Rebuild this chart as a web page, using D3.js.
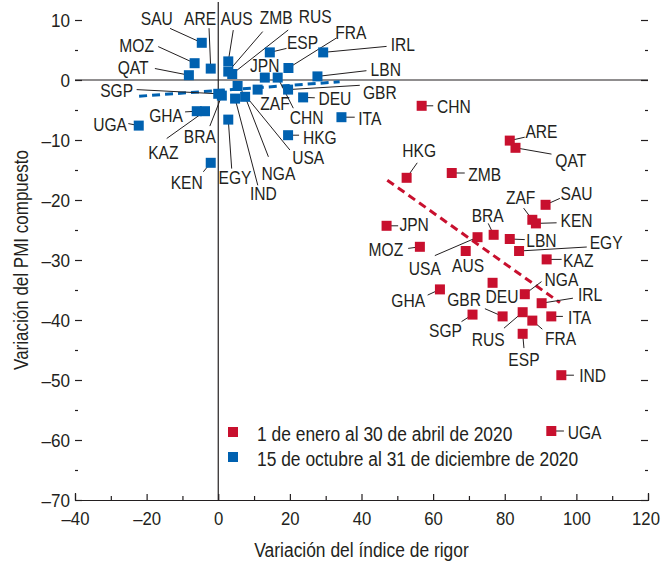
<!DOCTYPE html>
<html>
<head>
<meta charset="utf-8">
<script src="https://cdn.jsdelivr.net/npm/d3@7"></script>
<style>
  html, body { margin: 0; padding: 0; background: #fff; }
  svg { display: block; }
  text { font-family: "Liberation Sans", Arial, sans-serif; fill: #231f20; }
</style>
</head>
<body>
<svg id="chart" width="663" height="561"></svg>
<script>
// Country codes in each period
const countries = ["SAU","ARE","AUS","ZMB","RUS","ESP","FRA","IRL","LBN","JPN","CHN","GBR","ZAF","DEU",
                   "ITA","HKG","USA","NGA","IND","EGY","KEN","KAZ","BRA","GHA","UGA","SGP","QAT","MOZ"];

// 1 Jan – 30 Apr 2020: change in stringency index (x) and composite PMI (y)
const earlyStringency = [91.4, 81.4, 69.1, 65.2, 85.0, 85.0, 87.7, 90.3, 81.4, 47.0, 56.8, 79.4, 87.7, 76.6,
                         93.0, 52.6, 72.4, 85.6, 95.8, 84.0, 88.7, 91.7, 76.9, 61.9, 93.0, 71.0, 83.0, 56.3];
const earlyPMI        = [-20.8, -10.1, -28.5, -15.5, -38.7, -42.3, -40.1, -37.2, -26.5, -24.3, -4.3, -39.4, -23.3, -33.8,
                         -39.4, -16.3, -26.2, -35.7, -49.2, -28.5, -23.9, -29.9, -25.8, -34.9, -58.5, -39.1, -11.3, -27.8];

// 15 Oct – 31 Dec 2020
const lateStringency = [-4.6, -2.1, 2.8, 2.8, 3.9, 14.4, 19.6, 29.3, 27.7, 13.0, 16.6, 19.5, 11.0, 23.7,
                        34.4, 19.5, 5.4, 7.5, 4.7, 2.8, -2.1, -3.7, 1.0, -6.0, -22.2, 0.0, -8.2, -6.6];
const latePMI        = [6.2, 1.9, 3.1, 1.4, 1.0, 4.6, 2.0, 4.6, 0.6, 0.4, 0.4, -1.6, -1.6, -2.9,
                        -6.2, -9.2, -1.0, -2.8, -3.1, -6.6, -13.8, -5.2, -2.6, -5.2, -7.6, -2.3, 0.8, 2.8];

// Fitted trend lines: [x0, y0, x1, y1]
const earlyTrend = [47.2, -16.7, 95.4, -37.1];
const lateTrend  = [-22.1, -2.7, 33.9, -0.3];

// Axis ticks
const xTicks = [-40, -20, 0, 20, 40, 60, 80, 100, 120];
const xMinorTicks = [-30, -10, 10, 30, 50, 70, 90, 110];
const yTicks = [10, 0, -10, -20, -30, -40, -50, -60, -70];
const yMinorTicks = [5, -5, -15, -25, -35, -45, -55, -65];

const legendLabels = ["1 de enero al 30 de abril de 2020", "15 de octubre al 31 de diciembre de 2020"];
const xTitle = "Variación del índice de rigor";
const yTitle = "Variación del PMI compuesto";

// Label placement (pixel offsets from the marker): text centre, and optional leader end
const earlyLabelPos = {
  CHN: [32.3, 1, 11.6, 0],   ARE: [31.7, -9, 15, -3.4],   QAT: [55.3, 12.3, 36, 6.3],
  HKG: [12.6, -27.7, 10.6, -15], ZMB: [33, 1.6, 13, 0],  SAU: [31, -11.4, 14.3, -6.4],
  ZAF: [-11.7, -22.7, -8.7, -11.7], KEN: [40.7, -2.6, 20.7, -0.6], JPN: [27.6, -1.7, 11.6, 0],
  BRA: [-6, -19.7, -5.4, -11.4], USA: [-52.7, 31, -42.7, 18.4], LBN: [31.7, 1.3, 15, 0.6],
  MOZ: [-34, 2.3, -11.7, 1.6], AUS: [2.3, 14.8], EGY: [87, -8.2, 67.7, -4],
  KAZ: [31.6, 0.7, 15, 0], NGA: [36.7, -15.3, 16.7, -12.6], DEU: [9.5, 14],
  GHA: [-31.7, 10.7, -12.3, 5.7], GBR: [-38.5, -17.4, -17.7, -7.7], IRL: [48.5, -8.8, 31.3, -5],
  SGP: [-27, 15.3, -11, 7], RUS: [-34.4, 27, -18.7, 16], FRA: [28.3, 17.6, 10, 8.6],
  ITA: [28.3, 0.6, 11.6, 0], ESP: [1.3, 26, 1.3, 14.3], IND: [31.3, 0, 12.6, 0],
  UGA: [33.3, 1, 12.6, 0]
};
const lateLabelPos = {
  SAU: [-45, -24.4, -31.7, -14.4], ARE: [-10.7, -50.4, -1.7, -40.4], AUS: [8.4, -43, 5, -31.3],
  ZMB: [48, -54.2, 34.4, -40], RUS: [83, -57.3, 56, -44], ESP: [32.7, -9.6, 16.7, -4],
  FRA: [62.3, -35.3, 48, -30], IRL: [79.7, -7.7, 63.4, -6], LBN: [68.3, -6.7, 49, -5.7],
  JPN: [0, -12], CHN: [29, 39.6, 15.6, 30.6], GBR: [91.7, 2.4, 71.7, -4.3],
  ZAF: [17.3, 14], DEU: [31.7, 1, 11.7, 0.4], ITA: [28.3, 0.7, 13.3, 0],
  HKG: [31.7, 1.7, 11, 0], USA: [70.6, 71.7, 52.3, 64], NGA: [33.3, 76.6, 23.3, 60],
  IND: [28.3, 95, 22.7, 86.7], EGY: [6.7, 57.4, 3.4, 49], KEN: [-24, 20, -7.4, 9],
  KAZ: [-41.7, 40.7, -38.3, 27.3], BRA: [-22, 41.2, -12, 30.5], GHA: [-30.7, 4, -11.7, 0.7],
  UGA: [-28.7, -1.3, -10.4, -2], SGP: [-101.6, -3.5, -81.6, -4.2], QAT: [-55.7, -8.3, -34, -6.7],
  MOZ: [-58, -18.3, -36.4, -16.6]
};

const RED = "#c8102e", BLUE = "#0061b0", INK = "#231f20";

// Narrow the regular sans to a condensed look by squeezing its advance width
function condense(sel, factor) {
  sel.each(function () {
    const len = this.getComputedTextLength();
    this.setAttribute("textLength", (len * factor).toFixed(2));
    this.setAttribute("lengthAdjust", "spacingAndGlyphs");
  });
}

const svg = d3.select("#chart");
const x = d3.scaleLinear().domain([-40, 120]).range([75, 648]);
const y = d3.scaleLinear().domain([-70, 10]).range([500, 20]);

// Zero reference lines
svg.append("line").attr("x1", x(-40)).attr("x2", x(120)).attr("y1", y(0)).attr("y2", y(0))
  .attr("stroke", INK).attr("stroke-width", 1.2);
svg.append("line").attr("x1", x(0)).attr("x2", x(0)).attr("y1", 2).attr("y2", y(-70))
  .attr("stroke", INK).attr("stroke-width", 1.2);

function styleAxis(g) {
  g.selectAll("line").attr("stroke", INK).attr("stroke-width", 1.2);
  g.selectAll("path").attr("stroke", INK).attr("stroke-width", 1.2);
  g.selectAll("text").attr("fill", INK).style("font-size", "19px")
    .style("font-family", '"Liberation Sans", Arial, sans-serif');
}
const fmt = d => d < 0 ? "\u2013" + Math.abs(d) : String(d);

// Bottom axis (last label nudged in so it stays inside the canvas)
svg.append("g").attr("transform", `translate(0,${y(-70)})`)
  .call(d3.axisBottom(x).tickValues(xTicks).tickSizeInner(-6).tickSizeOuter(-7).tickPadding(12).tickFormat(fmt))
  .call(g => g.selectAll("text").attr("dy", "0.71em").attr("dx", d => d === 120 ? -2.5 : 0))
  .call(styleAxis)
  .call(g => condense(g.selectAll("text"), 0.88));
svg.append("g").attr("transform", `translate(0,${y(-70)})`)
  .call(d3.axisBottom(x).tickValues(xMinorTicks).tickSize(-4).tickFormat(""))
  .call(g => g.select(".domain").remove())
  .call(styleAxis);

// Left axis
svg.append("g").attr("transform", `translate(${x(-40)},0)`)
  .call(d3.axisLeft(y).tickValues(yTicks).tickSize(-7).tickPadding(5).tickFormat(fmt))
  .call(g => g.select(".domain").remove())
  .call(styleAxis)
  .call(g => condense(g.selectAll("text"), 0.9));
svg.append("g").attr("transform", `translate(${x(-40)},0)`)
  .call(d3.axisLeft(y).tickValues(yMinorTicks).tickSize(-3).tickFormat(""))
  .call(g => g.select(".domain").remove())
  .call(styleAxis);

// Right axis
svg.append("g").attr("transform", `translate(${x(120)},0)`)
  .call(d3.axisRight(y).tickValues(yTicks).tickSize(-7).tickFormat(""))
  .call(g => g.select(".domain").remove())
  .call(styleAxis);
svg.append("g").attr("transform", `translate(${x(120)},0)`)
  .call(d3.axisRight(y).tickValues(yMinorTicks).tickSize(-3).tickFormat(""))
  .call(g => g.select(".domain").remove())
  .call(styleAxis);

// Axis titles
svg.append("text").attr("x", (x(-40) + x(120)) / 2).attr("y", 550).attr("dy", "0.35em")
  .attr("text-anchor", "middle").style("font-size", "20px").text(xTitle)
  .call(s => condense(s, 0.87));
svg.append("text").attr("transform", `translate(21,${(y(10) + y(-70)) / 2}) rotate(-90)`)
  .attr("dy", "0.35em").attr("text-anchor", "middle").style("font-size", "20px").text(yTitle)
  .call(s => condense(s, 0.85));

// Trend lines
function trend(t, color) {
  svg.append("line")
    .attr("x1", x(t[0])).attr("y1", y(t[1])).attr("x2", x(t[2])).attr("y2", y(t[3]))
    .attr("stroke", color).attr("stroke-width", 3).attr("stroke-dasharray", "8,5");
}
trend(lateTrend, BLUE);
trend(earlyTrend, RED);

// Scatter series with labels
function series(xs, ys, pos, color) {
  const data = countries.map((c, i) => ({ c, x: xs[i], y: ys[i], p: pos[c] }));
  const g = svg.append("g");
  g.selectAll("line.leader").data(data.filter(d => d.p.length > 2)).join("line")
    .attr("class", "leader")
    .attr("x1", d => x(d.x)).attr("y1", d => y(d.y))
    .attr("x2", d => x(d.x) + d.p[2]).attr("y2", d => y(d.y) + d.p[3])
    .attr("stroke", INK).attr("stroke-width", 1);
  g.selectAll("rect").data(data).join("rect")
    .attr("x", d => x(d.x) - 5).attr("y", d => y(d.y) - 5)
    .attr("width", 10).attr("height", 10).attr("fill", color);
  g.selectAll("text").data(data).join("text")
    .attr("x", d => x(d.x) + d.p[0]).attr("y", d => y(d.y) + d.p[1])
    .attr("dy", "0.35em").attr("text-anchor", "middle").style("font-size", "19px")
    .text(d => d.c)
    .call(s => condense(s, 0.82));
}
series(lateStringency, latePMI, lateLabelPos, BLUE);
series(earlyStringency, earlyPMI, earlyLabelPos, RED);

// Legend
const legend = svg.append("g").attr("transform", "translate(228,427)");
legendLabels.forEach((t, i) => {
  legend.append("rect").attr("x", 0).attr("y", i * 25).attr("width", 10).attr("height", 10)
    .attr("fill", i === 0 ? RED : BLUE);
  legend.append("text").attr("x", 29).attr("y", i * 25 + 7).attr("dy", "0.35em")
    .style("font-size", "20px").text(t)
    .call(s => condense(s, 0.87));
});
</script>
</body>
</html>
